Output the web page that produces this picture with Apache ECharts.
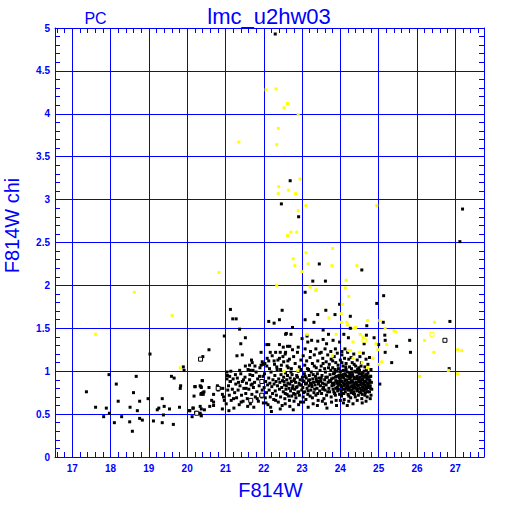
<!DOCTYPE html>
<html><head><meta charset="utf-8">
<script src="https://cdn.jsdelivr.net/npm/echarts@6/dist/echarts.min.js"></script>
<style>html,body{margin:0;padding:0;background:#fff}#c{width:512px;height:512px}</style>
</head><body><div id="c"></div>
<script>
const xMajorTicks = [17,18,19,20,21,22,23,24,25,26,27];
const xRange = [16.55, 27.75];
const yRange = [0, 5];

const blackLeft = [
[19.03,1.20],[20.41,1.17],[19.90,1.05],[19.92,1.01],[17.96,0.96],[18.67,0.94],[19.59,0.94],[19.66,0.92],[20.39,0.89],[18.15,0.85],
[19.83,0.83],[19.82,0.80],[20.20,0.82],[20.34,0.83],[20.37,0.81],[17.37,0.76],[18.60,0.75],[20.44,0.76],[20.37,0.74],[20.18,0.71],
[20.42,0.73],[18.20,0.65],[18.76,0.65],[18.98,0.68],[19.35,0.68],[17.61,0.58],[17.89,0.57],[18.51,0.58],[18.70,0.54],[19.26,0.57],
[19.22,0.55],[19.40,0.59],[19.54,0.56],[19.80,0.58],[20.06,0.54],[20.16,0.57],[20.34,0.59],[20.37,0.56],[20.34,0.51],[20.37,0.48],
[17.97,0.51],[17.82,0.47],[18.29,0.47],[19.38,0.49],[20.13,0.47],[18.10,0.40],[18.50,0.41],[18.76,0.45],[18.83,0.43],[19.12,0.42],
[19.35,0.40],[19.64,0.38],[18.57,0.30],
[20.57,1.25],[20.97,1.41],[21.13,1.72],[21.19,1.61],[21.28,1.61],[21.37,1.49],[21.52,1.39],[21.40,1.32],[21.30,1.18],[21.44,1.19],
[21.93,1.22],[21.63,1.07],[21.70,1.10],[21.68,1.13],[21.52,1.06],[21.65,1.01],[21.72,1.01],[21.37,1.01],[21.96,1.11],[21.98,1.08],
[21.93,1.07],[21.04,0.99],[20.40,0.89],[20.21,0.82],[20.36,0.82],[20.57,0.81],[20.41,0.75],[20.36,0.73],[20.69,0.73],[20.81,0.78],
[20.64,0.66],[20.69,0.64],[20.15,0.57],[20.22,0.52],[20.36,0.49],[20.07,0.54],[20.45,0.55],[20.59,0.59],[20.69,0.60],
[20.79,0.83],[20.86,0.80],[20.93,0.80],[20.92,0.73],[20.95,0.70],[20.97,0.66],[20.92,0.56],[21.09,0.54],[21.04,0.91],[21.11,0.94],[21.13,0.88]
];

const blackBand = [
[21.02,0.62],[21.05,0.95],[21.08,0.83],[21.10,0.72],[21.12,0.88],[21.15,0.66],[21.18,0.79],[21.20,0.91],[21.22,0.57],[21.24,0.75],
[21.27,0.85],[21.29,0.69],[21.31,0.92],[21.33,0.78],[21.36,0.61],[21.38,0.83],[21.40,0.97],[21.42,0.72],[21.44,0.88],[21.46,0.65],[21.48,0.80],
[21.51,0.93],[21.53,0.74],[21.55,0.86],[21.57,0.68],[21.59,1.02],[21.61,0.79],[21.63,0.90],[21.65,0.62],[21.67,0.84],[21.69,0.73],[21.71,0.95],[21.73,0.81],[21.74,0.58],
[21.76,0.87],[21.78,0.70],[21.80,0.99],[21.82,0.76],[21.84,0.91],[21.86,0.65],[21.88,0.83],[21.90,1.04],[21.92,0.72],[21.94,0.89],[21.96,0.78],[21.98,0.94],[21.99,0.63],
[22.01,0.81],[22.02,0.97],[22.04,0.69],[22.05,0.88],[22.07,0.75],[22.08,1.06],[22.10,0.84],[22.11,0.61],[22.13,0.92],[22.14,0.78],[22.16,0.86],[22.17,0.70],[22.19,0.99],[22.20,0.53],[22.21,0.82],[22.23,0.74],[22.24,0.90],
[22.26,0.67],[22.27,0.85],[22.29,0.95],[22.30,0.77],[22.32,0.88],[22.33,0.72],[22.35,1.02],[22.36,0.83],[22.38,0.64],[22.39,0.91],[22.41,0.79],[22.42,0.87],[22.44,0.70],[22.45,0.96],[22.47,0.81],[22.48,0.60],[22.49,0.89],
[22.51,0.76],[22.52,0.93],[22.54,0.84],[22.55,0.68],[22.57,0.98],[22.58,0.79],[22.60,0.90],[22.61,0.73],[22.63,0.86],[22.64,1.04],[22.66,0.80],[22.67,0.66],[22.69,0.92],[22.70,0.77],[22.72,0.88],[22.73,0.71],[22.74,0.96],
[22.76,0.83],[22.77,0.55],[22.78,0.74],[22.80,0.91],[22.81,0.79],[22.83,0.87],[22.84,0.69],[22.86,0.95],[22.87,0.82],[22.89,0.75],[22.90,1.00],[22.92,0.86],[22.93,0.72],[22.95,0.90],[22.96,0.64],[22.98,0.84],[22.99,0.78],
[23.01,0.93],[23.02,0.81],[23.03,0.70],[23.05,0.88],[23.06,0.97],[23.07,0.76],[23.09,0.85],[23.10,0.67],[23.11,0.92],[23.13,0.80],[23.14,1.03],[23.15,0.73],[23.17,0.89],[23.18,0.83],[23.19,0.95],[23.21,0.71],[23.22,0.86],[23.23,0.78],[23.24,0.99],
[23.26,0.82],[23.27,0.69],[23.28,0.91],[23.30,0.87],[23.31,0.75],[23.32,1.06],[23.34,0.84],[23.35,0.94],[23.36,0.72],[23.38,0.88],[23.39,0.80],[23.40,0.97],[23.42,0.66],[23.43,0.85],[23.44,0.92],[23.46,0.77],[23.47,1.01],[23.48,0.83],[23.49,0.89],
[23.51,0.74],[23.52,0.95],[23.53,0.86],[23.55,1.09],[23.56,0.81],[23.57,0.68],[23.59,0.90],[23.60,0.78],[23.61,0.99],[23.63,0.84],[23.64,0.72],[23.65,0.57],[23.66,0.93],[23.68,0.87],[23.69,1.04],[23.70,0.80],[23.72,0.76],[23.73,0.96],[23.74,0.88],
[23.76,0.70],[23.77,0.91],[23.78,0.83],[23.80,1.12],[23.81,0.79],[23.82,0.97],[23.84,0.86],[23.85,0.74],[23.86,1.02],[23.88,0.89],[23.89,0.66],[23.90,0.94],[23.92,0.81],[23.93,0.77],[23.94,1.07],[23.96,0.85],[23.97,0.92],[23.98,0.73],[23.99,0.99],
[24.01,0.84],[24.02,0.95],[24.03,0.71],[24.04,1.10],[24.05,0.88],[24.06,0.79],[24.08,1.01],[24.09,0.92],[24.10,0.67],[24.11,0.85],[24.12,0.97],[24.13,0.76],[24.14,1.05],[24.16,0.90],[24.17,0.82],[24.18,0.60],[24.19,0.94],[24.20,0.73],[24.21,0.87],[24.22,1.14],[24.23,0.80],[24.24,0.98],
[24.26,0.86],[24.27,0.69],[24.28,0.93],[24.29,1.03],[24.30,0.78],[24.31,0.89],[24.32,0.96],[24.34,0.74],[24.35,0.84],[24.36,1.08],[24.37,0.91],[24.38,0.81],[24.39,0.70],[24.41,0.99],[24.42,0.87],[24.43,0.77],[24.44,0.94],[24.45,1.02],[24.46,0.83],[24.47,0.72],[24.48,0.90],[24.49,0.97],
[24.51,0.80],[24.52,0.93],[24.53,0.75],[24.54,1.06],[24.55,0.86],[24.56,0.68],[24.57,0.95],[24.58,0.82],[24.59,0.90],[24.61,0.77],[24.62,1.00],[24.63,0.88],[24.64,0.72],[24.65,0.84],[24.66,0.96],[24.68,0.79],[24.69,0.91],[24.70,0.70],[24.71,0.86],[24.72,0.98],[24.73,0.81],[24.74,0.93],
[24.76,0.76],[24.77,0.89],[24.78,0.83],[24.79,0.94],[24.80,0.72],[24.81,0.87],[24.82,0.79],
[22.53,0.88],[22.56,0.74],[22.59,0.83],[22.62,0.95],[22.65,0.71],[22.68,0.85],[22.71,0.99],[22.75,0.80],[22.79,0.89],[22.82,0.73],[22.85,0.81],[22.88,0.93],[22.91,0.76],[22.94,0.84],[22.97,1.02],
[23.02,0.89],[23.04,0.75],[23.08,0.94],[23.12,0.86],[23.16,0.77],[23.20,0.90],[23.25,0.84],[23.29,0.96],[23.33,0.79],[23.37,0.91],[23.41,0.74],[23.45,0.88],
[23.50,0.92],[23.54,0.79],[23.58,0.85],[23.62,0.93],[23.67,0.76],[23.71,0.89],[23.75,1.01],[23.79,0.86],[23.83,0.76],[23.87,0.93],[23.91,0.88],[23.95,0.79],
[24.00,0.91],[24.03,0.82],[24.07,0.96],[24.09,0.74],[24.13,0.89],[24.15,0.80],[24.18,0.99],[24.21,0.78],[24.24,0.91],[24.27,0.82],[24.30,0.95],[24.33,0.87],[24.35,0.76],[24.38,1.00],[24.40,0.85],[24.43,0.91],[24.45,0.79],[24.48,0.84],[24.50,1.01],[24.53,0.89],[24.55,0.78],[24.58,0.98],[24.60,0.85],[24.63,0.94],[24.65,0.75],[24.67,0.88],[24.70,0.96],[24.72,0.83],[24.75,0.90],[24.78,0.80],
[23.81,0.92],[23.85,0.98],[23.88,0.80],[23.92,0.86],[23.96,0.95],[24.02,0.77],[24.06,0.93],[24.10,0.83],[24.14,0.95],[24.17,0.86],[24.20,0.81],[24.23,0.94],[24.26,0.78],[24.29,0.88],[24.32,0.83],[24.36,0.93],[24.39,0.86],[24.42,0.80],[24.46,0.92],[24.49,0.88],[24.52,0.84],[24.56,0.91],[24.59,0.80],[24.62,0.87],[24.66,0.82],[24.69,0.93]
];

const blackBandEdge = [
[22.03,1.09],[22.09,1.15],[22.15,1.03],[22.22,1.18],[22.28,1.08],[22.37,1.13],[22.44,1.02],[22.52,1.11],[22.56,1.20],[22.61,1.06],
[22.67,1.14],[22.72,1.03],[22.78,1.17],[22.82,1.09],[22.88,1.22],[22.93,1.05],[22.97,1.13],[23.03,1.18],[23.07,1.07],[23.12,1.12],
[23.17,1.02],[23.21,1.16],[23.27,1.09],[23.32,1.19],[23.37,1.04],[23.41,1.12],[23.46,1.21],[23.50,1.06],[23.54,1.15],[23.59,1.03],
[23.63,1.11],[23.67,1.19],[23.71,1.08],[23.76,1.14],[23.80,1.04],[23.84,1.17],[23.88,1.10],[23.92,1.21],[23.95,1.03],[24.00,1.13],
[24.04,1.19],[24.07,1.06],[24.11,1.15],[24.15,1.09],[24.19,1.22],[24.24,1.05],[24.28,1.16],[24.31,1.10],[24.35,1.20],[24.40,1.06],
[24.44,1.13],[24.48,1.04],[24.51,1.17],[24.55,1.10],[24.60,1.21],[24.64,1.05],[24.67,1.14],[24.72,1.08],[24.76,1.16],[24.80,1.02],
[22.06,0.63],[22.18,0.58],[22.31,0.66],[22.43,0.56],[22.56,0.62],[22.68,0.59],[22.79,0.65],[22.91,0.61],[23.04,0.64],[23.16,0.58],
[23.29,0.62],[23.40,0.60],[23.53,0.65],[23.61,0.62],[23.77,0.64],[23.90,0.60],[24.00,0.66],[24.08,0.63],[24.22,0.65],[24.33,0.62],
[24.44,0.66],[24.57,0.63],[24.67,0.65],[24.78,0.68],
[21.06,0.78],[21.14,1.00],[21.21,0.68],[21.26,0.96],[21.34,0.87],[21.41,0.64],[21.47,0.90],[21.54,0.80],[21.58,0.59],[21.64,0.96],
[21.70,0.85],[21.77,1.06],[21.83,0.68],[21.89,0.94],[21.95,0.70],
[23.83,0.84],[23.87,0.72],[23.91,1.00],[23.94,0.83],[23.98,0.88],[24.01,1.00],[24.05,0.74],[24.08,0.86],[24.12,0.79],[24.15,1.02],
[24.19,0.84],[24.22,0.71],[24.25,0.96],[24.28,0.75],[24.31,0.99],[24.34,0.80],[24.37,0.73],[24.40,0.92],[24.43,0.84],[24.47,0.99],
[24.50,0.76],[24.53,0.97],[24.57,0.73],[24.61,0.93],[24.64,0.79],[24.68,1.01],[24.71,0.76],[24.74,0.86]
];

const blackUpper = [
[22.13,1.31],[22.08,1.31],[22.41,1.31],[22.51,1.28],[22.62,1.29],[22.17,1.22],[22.31,1.22],[22.43,1.22],[22.57,1.22],[22.50,1.17],
[22.13,1.12],[22.27,1.12],[22.41,1.15],[22.63,1.12],[22.34,1.05],[22.46,1.07],
[22.13,1.58],[22.27,1.56],[22.41,1.60],[22.48,1.71],[22.57,1.43],
[23.98,1.78],[23.62,1.71],[23.41,1.66],[23.86,1.66],[24.26,1.64],[23.08,1.60],[23.31,1.57],[24.26,1.50],[24.69,1.53],[22.75,1.51],
[22.59,1.44],[22.71,1.43],[23.13,1.41],[23.55,1.48],[23.69,1.43],[24.09,1.43],[24.21,1.39],[24.68,1.42],[24.62,1.32],
[23.00,1.38],[23.15,1.34],[23.25,1.36],[23.41,1.35],[23.55,1.37],[23.64,1.32],[23.81,1.36],[23.98,1.34],
[22.68,1.29],[22.75,1.25],[22.90,1.28],[23.08,1.26],[23.22,1.23],[23.36,1.26],[23.50,1.22],[23.60,1.26],[23.75,1.23],[23.87,1.26],[24.04,1.23],[24.12,1.26],
[23.45,2.25],[23.28,2.05],[23.61,2.05],[24.56,2.18],[23.08,1.92],[22.30,4.93],[22.69,3.22],[22.46,2.95],[22.91,2.80]
];

const blackRight = [
[25.13,1.88],[24.95,1.79],[25.12,1.57],[26.86,1.58],[24.88,1.39],[25.16,1.42],[25.17,1.36],[25.81,1.36],[25.00,1.31],[25.47,1.29],
[25.17,1.22],[25.83,1.22],[25.34,1.10],[26.84,1.03],[24.79,0.94],[25.03,0.85],[27.19,2.89],[27.12,2.51]
];

const openBlack = [[26.73,1.36],[20.35,1.14],[20.25,0.51],[21.66,0.66],[21.95,0.72],[21.95,0.88],[20.81,0.80]];

const yellowPts = [
[22.06,4.28],[22.32,4.29],[22.62,4.12],[22.53,4.07],[22.90,3.99],[22.38,3.83],[21.35,3.67],[22.34,3.64],[22.95,3.24],[22.39,3.15],
[22.65,3.11],[22.38,3.07],[22.83,3.07],[23.10,2.93],[22.90,2.87],[24.95,2.93],[22.71,2.62],[22.86,2.62],[22.62,2.58],[23.80,2.43],
[23.10,2.38],[22.77,2.31],[23.16,2.25],[23.78,2.23],[22.81,2.23],[24.43,2.23],[20.83,2.15],[23.00,2.16],[24.15,2.06],[22.34,2.00],
[23.21,1.98],[24.13,1.97],[23.37,1.95],[24.22,1.87],[18.62,1.92],[19.61,1.65],[17.61,1.43],[19.82,1.04],[23.36,1.94],[24.05,1.78],
[24.02,1.67],[23.70,1.62],[24.17,1.57],[24.19,1.54],[24.03,1.57],[24.71,1.59],[24.40,1.51],[24.35,1.50],[23.13,1.43],[23.89,1.43],
[24.52,1.43],[24.59,1.40],[24.66,1.36],[24.33,1.34],[24.22,1.24],[24.27,1.24],[24.50,1.22],[24.85,1.15],[24.33,1.15],[23.79,1.18],
[24.57,1.10],[24.71,1.04],[22.89,1.01],[22.53,1.00],
[25.03,1.59],[26.46,1.57],[25.17,1.50],[25.40,1.47],[25.45,1.46],[26.20,1.36],[24.93,1.32],[25.21,1.31],[24.98,1.25],[26.44,1.22],
[27.06,1.25],[27.17,1.24],[24.84,1.15],[25.08,1.11],[25.00,1.08],[26.82,1.01],[27.06,0.97],[26.07,0.94]
];

const openYellow = [[26.39,1.43],[24.62,1.36]];

const blue = '#0000ff';
const FONT = 'Liberation Sans';
const xMinorTicks = [];
for (let i = 83; i <= 138; i++) { if (i % 5 !== 0) xMinorTicks.push(+(i * 0.2).toFixed(1)); }

const chart = echarts.init(document.getElementById('c'), null, {renderer: 'svg', width: 512, height: 512});

const baseX = {type: 'value', min: xRange[0], max: xRange[1]};
const baseY = {type: 'value', min: yRange[0], max: yRange[1], interval: 0.5};

chart.setOption({
  animation: false,
  backgroundColor: '#fff',
  grid: {left: 55, top: 28, width: 429, height: 429, show: false},
  xAxis: [
    Object.assign({}, baseX, {
      position: 'bottom',
      axisLine: {show: true, onZero: false, lineStyle: {color: blue, width: 1}},
      axisTick: {show: false, customValues: xMajorTicks},
      axisLabel: {customValues: xMajorTicks, color: blue, fontWeight: 'bold', fontSize: 10, fontFamily: FONT, margin: 6},
      splitLine: {show: true, lineStyle: {color: blue, width: 1}}
    }),
    Object.assign({}, baseX, {
      position: 'bottom',
      axisLine: {show: false, onZero: false},
      axisTick: {show: true, inside: true, length: 5, customValues: xMinorTicks, lineStyle: {color: blue, width: 1}},
      axisLabel: {show: false},
      splitLine: {show: false}
    }),
    Object.assign({}, baseX, {
      position: 'top',
      axisLine: {show: true, onZero: false, lineStyle: {color: blue, width: 1}},
      axisTick: {show: true, inside: true, length: 5, customValues: xMinorTicks, lineStyle: {color: blue, width: 1}},
      axisLabel: {show: false},
      splitLine: {show: false}
    })
  ],
  yAxis: [
    Object.assign({}, baseY, {
      position: 'left',
      axisLine: {show: true, onZero: false, lineStyle: {color: blue, width: 1}},
      axisTick: {show: false, inside: true},
      minorTick: {show: true, splitNumber: 5, length: 5, lineStyle: {color: blue, width: 1}},
      axisLabel: {color: blue, fontWeight: 'bold', fontSize: 10, fontFamily: FONT, margin: 5},
      splitLine: {show: true, lineStyle: {color: blue, width: 1}}
    }),
    Object.assign({}, baseY, {
      position: 'right',
      axisLine: {show: true, onZero: false, lineStyle: {color: blue, width: 1}},
      axisTick: {show: false, inside: true},
      minorTick: {show: true, splitNumber: 5, length: 5, lineStyle: {color: blue, width: 1}},
      axisLabel: {show: false},
      splitLine: {show: false}
    })
  ],
  graphic: [
    {type: 'text', x: 95.5, y: 18.4, silent: true, style: {text: 'PC', fill: blue, font: '16px "Liberation Sans"', align: 'center', verticalAlign: 'middle'}},
    {type: 'text', x: 269, y: 16, silent: true, style: {text: 'lmc_u2hw03', fill: blue, font: '22px "Liberation Sans"', align: 'center', verticalAlign: 'middle'}},
    {type: 'text', x: 270.5, y: 490.3, silent: true, style: {text: 'F814W', fill: blue, font: '20px "Liberation Sans"', align: 'center', verticalAlign: 'middle'}},
    {type: 'text', x: 12.3, y: 225.5, rotation: Math.PI / 2, silent: true, style: {text: 'F814W chi', fill: blue, font: '20px "Liberation Sans"', align: 'center', verticalAlign: 'middle'}}
  ],
  series: [
    {type: 'scatter', name: 'black', data: blackLeft.concat(blackBand, blackBandEdge, blackUpper, blackRight), symbol: 'rect', symbolSize: 3, itemStyle: {color: '#000', opacity: 1}, silent: true},
    {type: 'scatter', name: 'openBlack', data: openBlack, symbol: 'rect', symbolSize: 4, itemStyle: {color: '#fff', borderColor: '#000', borderWidth: 1, opacity: 1}, silent: true},
    {type: 'scatter', name: 'yellow', data: yellowPts, symbol: 'rect', symbolSize: 3, itemStyle: {color: '#ffff00', opacity: 1}, silent: true},
    {type: 'scatter', name: 'openYellow', data: openYellow, symbol: 'rect', symbolSize: 4, itemStyle: {color: '#fff', borderColor: '#ffff00', borderWidth: 1, opacity: 1}, silent: true}
  ]
});
</script></body></html>
